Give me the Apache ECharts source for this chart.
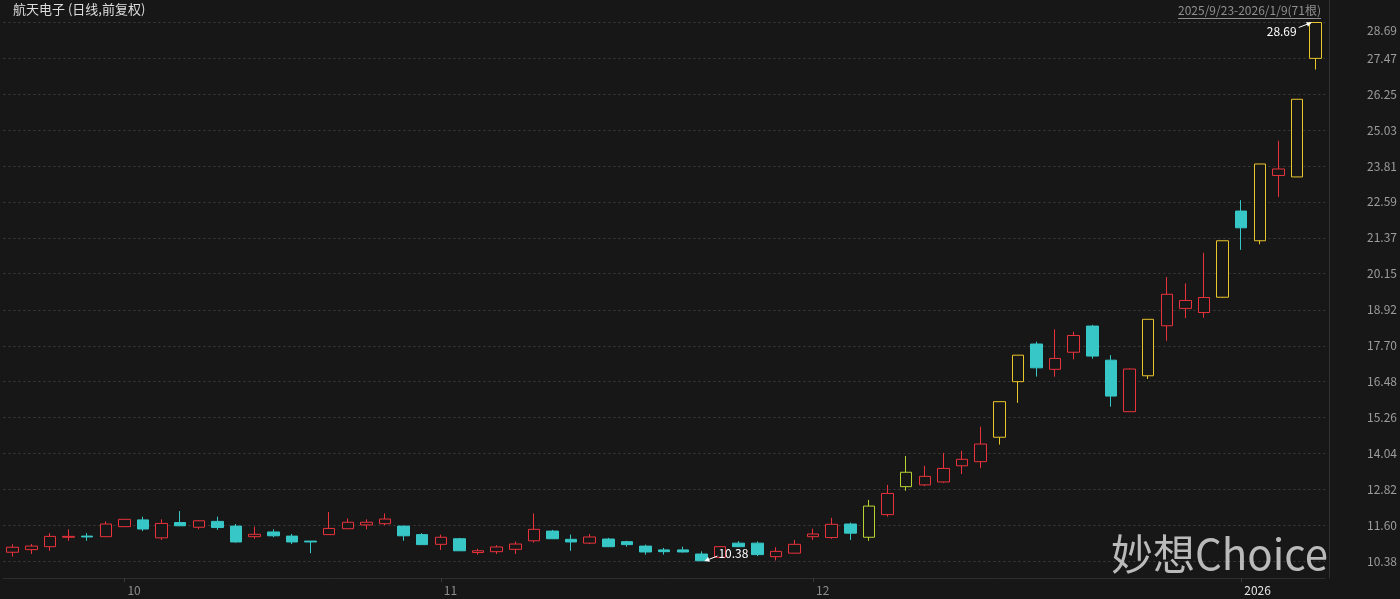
<!DOCTYPE html>
<html><head><meta charset="utf-8">
<script src="https://cdn.jsdelivr.net/npm/echarts@6/dist/echarts.min.js"></script>
<style>html,body{margin:0;padding:0;background:#171717;}#c{width:1400px;height:599px;}</style>
</head><body><div id="c"></div>
<script>
const dates = [
 '2025-09-23','2025-09-24','2025-09-25','2025-09-26','2025-09-29','2025-09-30',
 '2025-10-09','2025-10-10','2025-10-13','2025-10-14','2025-10-15','2025-10-16','2025-10-17',
 '2025-10-20','2025-10-21','2025-10-22','2025-10-23','2025-10-24','2025-10-27','2025-10-28',
 '2025-10-29','2025-10-30','2025-10-31',
 '2025-11-03','2025-11-04','2025-11-05','2025-11-06','2025-11-07','2025-11-10','2025-11-11',
 '2025-11-12','2025-11-13','2025-11-14','2025-11-17','2025-11-18','2025-11-19','2025-11-20',
 '2025-11-21','2025-11-24','2025-11-25','2025-11-26','2025-11-27','2025-11-28',
 '2025-12-01','2025-12-02','2025-12-03','2025-12-04','2025-12-05','2025-12-08','2025-12-09',
 '2025-12-10','2025-12-11','2025-12-12','2025-12-15','2025-12-16','2025-12-17','2025-12-18',
 '2025-12-19','2025-12-22','2025-12-23','2025-12-24','2025-12-25','2025-12-26','2025-12-29',
 '2025-12-30','2025-12-31',
 '2026-01-05','2026-01-06','2026-01-07','2026-01-08','2026-01-09'
];
const openP = [10.68,10.77,10.87,11.19,11.23,11.21,
 11.55,11.78,11.17,11.69,11.53,11.73,11.57,11.21,11.37,11.23,11.06,11.28,11.48,11.61,11.65,11.57,11.28,
 10.95,11.14,10.67,10.70,10.78,11.07,11.40,11.12,10.99,11.13,11.04,10.89,10.76,10.76,10.62,10.51,10.99,10.99,10.53,10.65,
 11.21,11.18,11.64,11.19,11.96,12.91,12.97,13.07,13.62,13.76,14.59,16.48,17.76,16.90,17.48,18.37,17.21,15.46,16.68,18.38,18.97,18.83,19.35,
 22.28,21.27,23.49,23.44,27.47];
const closeP = [10.85,10.89,11.22,11.22,11.20,11.64,
 11.80,11.47,11.66,11.58,11.75,11.52,11.03,11.29,11.24,11.03,11.03,11.49,11.70,11.70,11.81,11.24,10.94,
 11.19,10.73,10.73,10.86,10.96,11.46,11.14,11.03,11.20,10.87,10.94,10.69,10.70,10.69,10.39,10.87,10.87,10.60,10.71,10.95,
 11.30,11.63,11.33,12.25,12.68,13.40,13.26,13.53,13.84,14.36,15.80,17.38,16.95,17.27,18.05,17.35,15.99,16.91,18.60,19.45,19.24,19.34,21.27,
 21.71,23.88,23.71,26.08,28.69];
const lowP = [10.53,10.62,10.73,11.07,11.07,11.20,
 11.54,11.40,11.10,11.57,11.46,11.44,11.01,11.14,11.19,10.96,10.65,11.27,11.47,11.46,11.60,11.07,10.93,
 10.76,10.73,10.60,10.62,10.62,11.01,11.14,10.73,10.96,10.86,10.87,10.60,10.60,10.67,10.38,10.50,10.86,10.55,10.40,10.64,
 11.10,11.14,11.10,11.07,11.89,12.77,12.93,13.04,13.34,13.54,14.34,15.76,16.65,16.65,17.24,17.26,15.63,15.45,16.57,17.87,18.64,18.65,19.33,
 20.96,21.15,22.76,23.44,27.09];
const highP = [10.95,10.96,11.33,11.46,11.33,11.73,
 11.81,11.89,11.80,12.08,11.76,11.89,11.64,11.55,11.46,11.30,11.06,12.05,11.83,11.80,12.00,11.58,11.33,
 11.28,11.17,10.80,10.92,11.05,12.00,11.44,11.28,11.30,11.17,11.07,10.94,10.83,10.87,10.71,10.88,11.06,11.05,10.85,11.10,
 11.48,11.85,11.69,12.46,12.97,13.95,13.62,14.06,14.13,14.95,15.80,17.38,17.84,18.26,18.18,18.41,17.38,16.93,18.60,20.04,19.82,20.86,21.27,
 22.65,23.88,24.67,26.08,28.69];
const yTicks = [10.38,11.60,12.82,14.04,15.26,16.48,17.70,18.92,20.15,21.37,22.59,23.81,25.03,26.25,27.47,28.69];
const titleText = '航天电子 (日线,前复权)';
const rangeText = '2025/9/23-2026/1/9(71根)';
const watermarkText = '妙想Choice';

const BG = '#171717', UP = '#e8333c', DOWN = '#38c7c7', LIMIT = '#e9c52c', TOUCH = '#b7d333';
const FONT = '"Noto Sans CJK SC","Noto Sans",sans-serif';

function limitOf(p){ return Math.round(p * 110 + 1e-6) / 100; }
const kData = dates.map((d, i) => {
  const v = [openP[i], closeP[i], lowP[i], highP[i]];
  if (i > 0) {
    const lim = limitOf(closeP[i - 1]);
    if (closeP[i] >= lim - 0.001) return { value: v, itemStyle: { color: BG, color0: BG, borderColor: LIMIT, borderColor0: LIMIT } };
    if (highP[i] >= lim - 0.001) return { value: v, itemStyle: { color: BG, color0: BG, borderColor: TOUCH, borderColor0: TOUCH } };
  }
  return v;
});
function isMonthStart(idx){ return idx > 0 && dates[idx].slice(5, 7) !== dates[idx - 1].slice(5, 7); }

const chart = echarts.init(document.getElementById('c'), null, { renderer: 'canvas' });
chart.setOption({
  backgroundColor: BG,
  animation: false,
  grid: { left: 3.4, top: 0, width: 1322.7, bottom: 21, containLabel: false },
  xAxis: {
    type: 'category', data: dates, boundaryGap: true,
    axisLine: { show: true, lineStyle: { color: '#2e2e2e' } },
    axisTick: { show: true, alignWithLabel: true, interval: isMonthStart, length: 4, lineStyle: { color: '#3a3a3a' } },
    axisLabel: {
      interval: isMonthStart, align: 'left', margin: 6, hideOverlap: false,
      formatter: (v, i) => {
        const m = parseInt(v.slice(5, 7), 10);
        return m === 1 ? '{y|' + v.slice(0, 4) + '}' : '{m|' + m + '}';
      },
      rich: {
        m: { color: '#8c8c8c', fontSize: 12, fontFamily: FONT, padding: [0, 0, 0, 3] },
        y: { color: '#e4e4e4', fontSize: 12, fontFamily: FONT, padding: [0, 0, 0, 3] }
      }
    },
    splitLine: { show: false }
  },
  yAxis: {
    type: 'value', position: 'right', min: 9.805, max: 29.455, offset: 4, scale: true,
    axisLine: { show: true, lineStyle: { color: '#333333' } },
    axisTick: { show: false, customValues: yTicks },
    axisLabel: {
      customValues: yTicks, showMinLabel: true, showMaxLabel: true, hideOverlap: false,
      align: 'right', margin: 68, color: '#9c9c9c', fontSize: 12, fontFamily: FONT,
      formatter: v => (Math.abs(v - yTicks[yTicks.length - 1]) < 1e-6 ? '{t|' + v.toFixed(2) + '}' : v.toFixed(2)),
      rich: { t: { color: '#9c9c9c', fontSize: 12, fontFamily: FONT, padding: [16, 0, 0, 0] } }
    },
    splitLine: { show: true, lineStyle: { color: '#3c3c3c', type: [2, 3], width: 1 } }
  },
  series: [{
    type: 'candlestick', data: kData, barWidth: 12,
    itemStyle: { color: BG, color0: DOWN, borderColor: UP, borderColor0: DOWN, borderWidth: 1 },
    emphasis: { disabled: true }
  }]
});

function arrow(x1, y1, x2, y2) {
  const dx = x2 - x1, dy = y2 - y1, L = Math.hypot(dx, dy), ux = dx / L, uy = dy / L;
  const bx = x2 - ux * 5, by = y2 - uy * 5, px = -uy * 2.5, py = ux * 2.5;
  return [
    { type: 'line', shape: { x1: x1, y1: y1, x2: bx, y2: by }, style: { stroke: '#ffffff', lineWidth: 1 }, z: 100 },
    { type: 'polygon', shape: { points: [[x2, y2], [bx + px, by + py], [bx - px, by - py]] }, style: { fill: '#ffffff' }, z: 100 }
  ];
}
const iMax = highP.indexOf(Math.max(...highP));
const iMin = lowP.indexOf(Math.min(...lowP));
const pMax = chart.convertToPixel({ gridIndex: 0 }, [dates[iMax], highP[iMax]]);
const pMin = chart.convertToPixel({ gridIndex: 0 }, [dates[iMin], lowP[iMin]]);

const ctx = document.createElement('canvas').getContext('2d');
ctx.font = '12px ' + FONT;
const rangeW = ctx.measureText(rangeText).width;
const rangeRight = 1321;

const graphics = [
  { type: 'text', left: 13, top: 3, style: { text: titleText, fill: '#dedede', font: '13px ' + FONT }, z: 100 },
  { type: 'text', x: rangeRight, y: 10, style: { text: rangeText, fill: '#8f8f8f', font: '12px ' + FONT, textAlign: 'right', textVerticalAlign: 'middle' }, z: 100 },
  { type: 'line', shape: { x1: rangeRight - rangeW, y1: 18.5, x2: rangeRight, y2: 18.5 }, style: { stroke: '#8f8f8f', lineWidth: 1 }, z: 100 },
  { type: 'text', x: 1328, y: 554, style: { text: watermarkText, fill: 'rgba(215,215,215,0.85)', font: '42px ' + FONT, textAlign: 'right', textVerticalAlign: 'middle' }, z: 90 },
  { type: 'text', x: pMax[0] - 19, y: pMax[1] + 9, style: { text: highP[iMax].toFixed(2), fill: '#ffffff', font: '12px ' + FONT, textAlign: 'right', textVerticalAlign: 'middle' }, z: 100 },
  ...arrow(pMax[0] - 17, pMax[1] + 5, pMax[0] - 4, pMax[1]),
  { type: 'text', x: pMin[0] + 17, y: pMin[1] - 8, style: { text: lowP[iMin].toFixed(2), fill: '#ffffff', font: '12px ' + FONT, textAlign: 'left', textVerticalAlign: 'middle' }, z: 100 },
  ...arrow(pMin[0] + 16, pMin[1] - 5, pMin[0] + 3, pMin[1])
];
chart.setOption({ graphic: graphics });
</script>
</body></html>
